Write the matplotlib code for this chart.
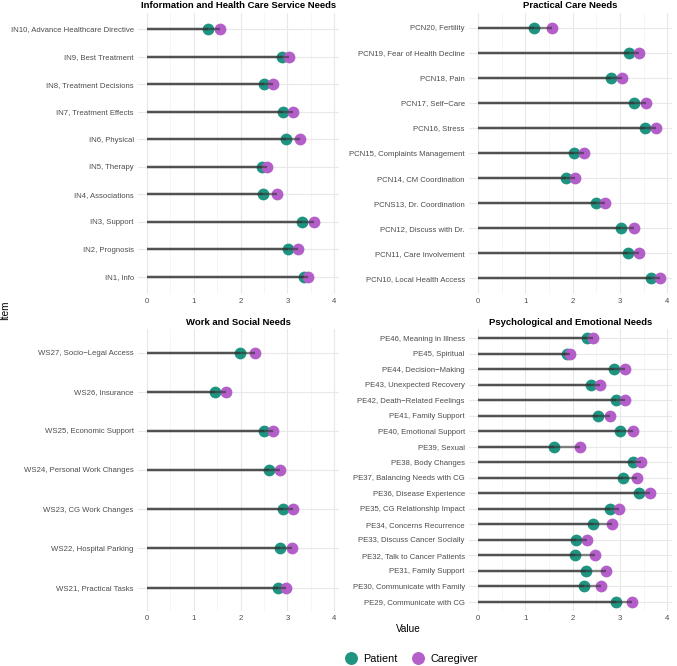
import numpy as np
import matplotlib.pyplot as plt
from matplotlib.lines import Line2D

plt.rcParams['font.family'] = ['Liberation Sans', 'DejaVu Sans']

# Information and Health Care Service Needs (bottom -> top)
info_items = ["IN1, Info", "IN2, Prognosis", "IN3, Support", "IN4, Associations",
              "IN5, Therapy", "IN6, Physical", "IN7, Treatment Effects",
              "IN8, Treatment Decisions", "IN9, Best Treatment",
              "IN10, Advance Healthcare Directive"]
info_patient = [3.35, 3.02, 3.32, 2.48, 2.46, 2.97, 2.91, 2.50, 2.89, 1.31]
info_caregiver = [3.43, 3.23, 3.56, 2.78, 2.56, 3.26, 3.12, 2.70, 3.04, 1.56]

# Practical Care Needs
pcn_items = ["PCN10, Local Health Access", "PCN11, Care Involvement",
             "PCN12, Discuss with Dr.", "PCNS13, Dr. Coordination",
             "PCN14, CM Coordination", "PCN15, Complaints Management",
             "PCN16, Stress", "PCN17, Self\u2212Care", "PCN18, Pain",
             "PCN19, Fear of Health Decline", "PCN20, Fertility"]
pcn_patient = [3.66, 3.18, 3.02, 2.49, 1.86, 2.03, 3.53, 3.30, 2.82, 3.20, 1.19]
pcn_caregiver = [3.85, 3.40, 3.30, 2.69, 2.06, 2.23, 3.77, 3.56, 3.04, 3.40, 1.56]

# Work and Social Needs
ws_items = ["WS21, Practical Tasks", "WS22, Hospital Parking",
            "WS23, CG Work Changes", "WS24, Personal Work Changes",
            "WS25, Economic Support", "WS26, Insurance",
            "WS27, Socio\u2212Legal Access"]
ws_patient = [2.80, 2.84, 2.91, 2.60, 2.50, 1.45, 1.99]
ws_caregiver = [2.96, 3.09, 3.11, 2.84, 2.70, 1.68, 2.30]

# Psychological and Emotional Needs
pe_items = ["PE29, Communicate with CG", "PE30, Communicate with Family",
            "PE31, Family Support", "PE32, Talk to Cancer Patients",
            "PE33, Discuss Cancer Socially", "PE34, Concerns Recurrence",
            "PE35, CG Relationship Impact", "PE36, Disease Experience",
            "PE37, Balancing Needs with CG", "PE38, Body Changes",
            "PE39, Sexual", "PE40, Emotional Support", "PE41, Family Support",
            "PE42, Death\u2212Related Feelings", "PE43, Unexpected Recovery",
            "PE44, Decision\u2212Making", "PE45, Spiritual",
            "PE46, Meaning in Illness"]
pe_patient = [2.91, 2.25, 2.28, 2.05, 2.07, 2.44, 2.80, 3.40, 3.07, 3.27,
              1.61, 3.00, 2.54, 2.92, 2.39, 2.88, 1.89, 2.31]
pe_caregiver = [3.26, 2.61, 2.70, 2.48, 2.31, 2.83, 2.99, 3.63, 3.35, 3.44,
                2.15, 3.27, 2.78, 3.10, 2.58, 3.11, 1.94, 2.43]

panels = [
    ("Information and Health Care Service Needs", info_items, info_patient, info_caregiver),
    ("Practical Care Needs", pcn_items, pcn_patient, pcn_caregiver),
    ("Work and Social Needs", ws_items, ws_patient, ws_caregiver),
    ("Psychological and Emotional Needs", pe_items, pe_patient, pe_caregiver),
]

teal = "#1f9481"
purple = "#b45ec9"
W, H = 677, 666
boxes = [(138, 12.5, 201, 281), (469, 12.5, 203, 281),
         (138, 329, 201, 282), (469, 329, 203, 282)]

fig = plt.figure(figsize=(W / 100, H / 100), dpi=100)

for (title, items, pat, care), (x0, y0, w, h) in zip(panels, boxes):
    ax = fig.add_axes([x0 / W, 1 - (y0 + h) / H, w / W, h / H])
    y = np.arange(len(items))
    ax.scatter(pat, y, s=72, color=teal, zorder=3, linewidths=0)
    ax.scatter(care, y, s=72, color=purple, zorder=4, linewidths=0)
    ax.hlines(y, 0, pat, color="#333333", alpha=0.6, lw=1.7, zorder=5)
    ax.hlines(y, 0, care, color="#333333", alpha=0.6, lw=1.7, zorder=5)
    ax.set_xlim(-0.19, 4.1)
    ax.set_ylim(-0.6, len(items) - 0.4)
    ax.set_xticks([0, 1, 2, 3, 4])
    ax.set_xticks([0.5, 1.5, 2.5, 3.5], minor=True)
    ax.set_yticks(y)
    ax.set_yticklabels(items)
    ax.grid(True, which="major", color="#e8e8e8", lw=0.8, zorder=0)
    ax.grid(True, which="minor", axis="x", color="#f2f2f2", lw=0.5, zorder=0)
    ax.set_axisbelow(True)
    for s in ax.spines.values():
        s.set_visible(False)
    ax.tick_params(which="both", length=0, labelsize=5.6, colors="#4d4d4d", pad=3)
    ax.set_title(title, fontsize=6.8, fontweight="bold", pad=3)

fig.text(5 / W, 1 - 310 / H, "Item", rotation=90, ha="center", va="center", fontsize=7.2)
fig.text(408 / W, 1 - 629 / H, "Value", ha="center", va="center", fontsize=7.2)

handles = [Line2D([], [], marker="o", ls="", color=teal, markersize=8.3, label="Patient"),
           Line2D([], [], marker="o", ls="", color=purple, markersize=8.3, label="Caregiver")]
fig.legend(handles=handles, loc="center", bbox_to_anchor=(409 / W, 1 - 659 / H),
           ncol=2, frameon=False, fontsize=7.8, handletextpad=0.1, columnspacing=0.9)

fig.savefig("out.png", dpi=100)
